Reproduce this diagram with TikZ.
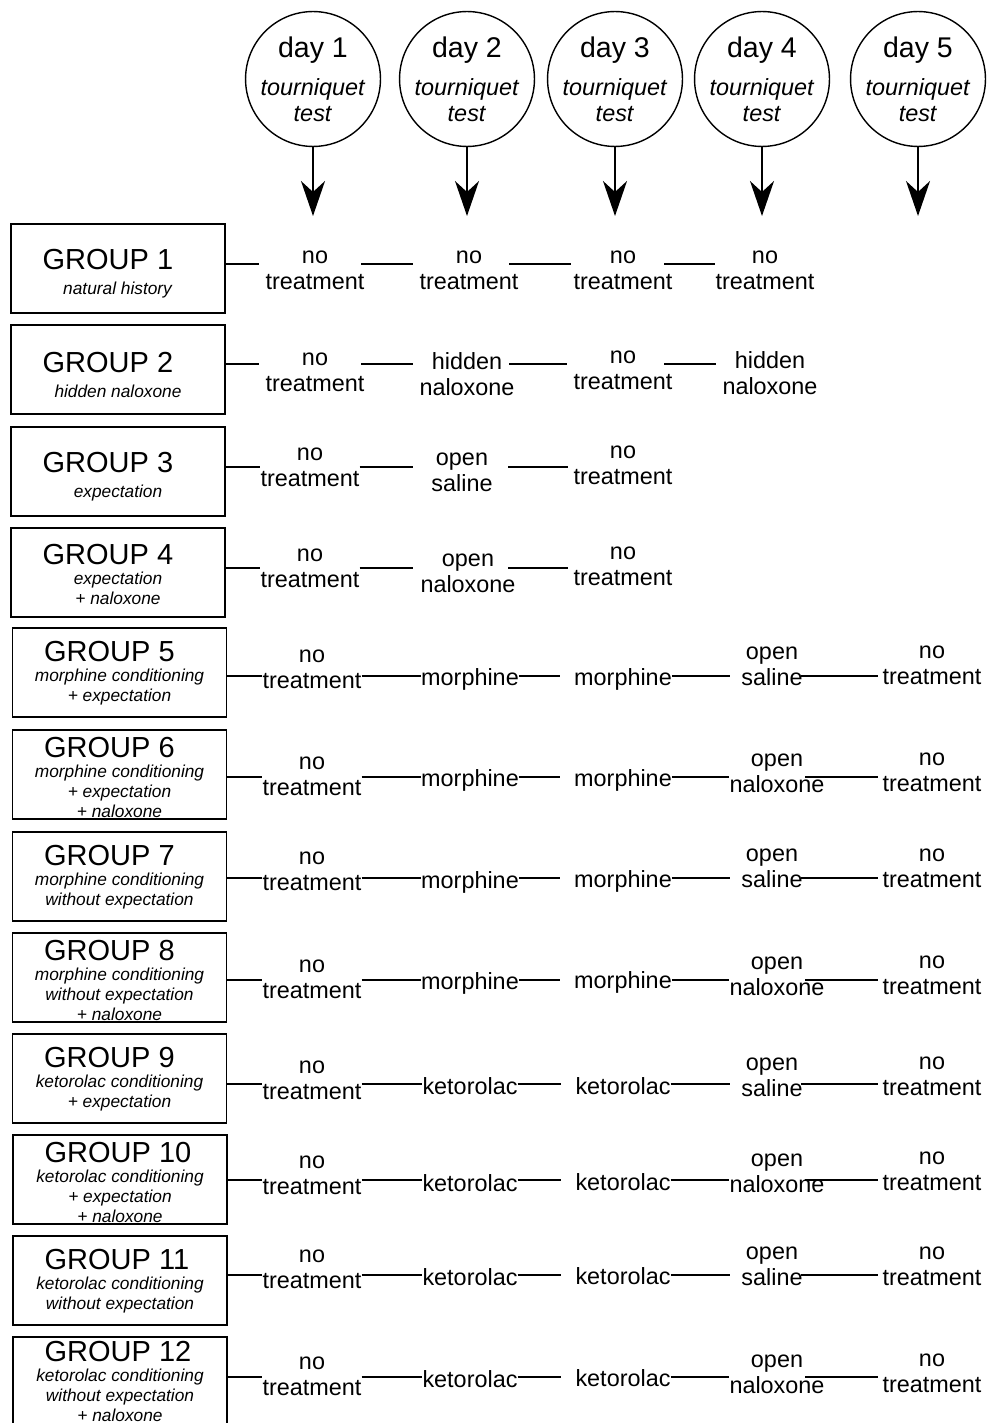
\documentclass[tikz,border=0pt]{standalone}
\usepackage{fontspec}
\setmainfont{Liberation Sans}
\usetikzlibrary{arrows.meta}
\newcommand\grouptitle[2][20.8pt]{{\fontsize{29}{20}\selectfont\rule{0pt}{#1}\rlap{GROUP #2}\phantom{GROUP 10}\hspace*{4pt}}}
\newcommand\dayline[1]{{\fontsize{28.5}{26}\selectfont #1}}
\begin{document}
\begin{tikzpicture}[x=1pt,y=-1pt,
  gbox/.style={draw, line width=1.8pt, minimum width=214pt, minimum height=89pt, inner sep=0pt, align=center, font=\fontsize{17.3}{20}\selectfont},
  daycirc/.style={draw, circle, line width=1.4pt, minimum size=130pt, inner sep=0pt, align=center, font=\fontsize{23.4}{26}\selectfont},
  cell/.style={inner sep=0pt, align=center, font=\fontsize{23.4}{26}\selectfont},
  conn/.style={line width=1.6pt},
  dayarrow/.style={line width=1.6pt, -{Stealth[length=35pt,width=24pt,inset=11pt]}}]
\useasboundingbox (0,0) rectangle (988,1423);

% day circles and arrows
\foreach \i/\x in {1/313,2/467,3/615,4/762,5/918}{
  \node[daycirc] (d\i) at (\x,79) {\dayline{day \i}\\[12pt]\textit{tourniquet}\\\textit{test}};
  \coordinate (t\i) at (\x,216);
  \draw[dayarrow] (d\i.south) -- (t\i);
}

% group boxes
\node[gbox] (g1) at (118,268.5) {\grouptitle[31pt]{1}\\[4.5pt]\textit{natural history}};
\node[gbox] (g2) at (118,369.5) {\grouptitle[31pt]{2}\\[4.5pt]\textit{hidden naloxone}};
\node[gbox] (g3) at (118,471.5) {\grouptitle[31pt]{3}\\[4.5pt]\textit{expectation}};
\node[gbox] (g4) at (118,572.5) {\grouptitle[24pt]{4}\\\textit{expectation}\\\textit{+ naloxone}};
\node[gbox] (g5) at (119.5,672.5) {\grouptitle{5}\\\textit{morphine conditioning}\\\textit{+ expectation}};
\node[gbox] (g6) at (119.5,774.5) {\grouptitle[26pt]{6}\\\textit{morphine conditioning}\\\textit{+ expectation}\\\textit{+ naloxone}};
\node[gbox] (g7) at (119.5,876.5) {\grouptitle{7}\\\textit{morphine conditioning}\\\textit{without expectation}};
\node[gbox] (g8) at (119.5,977.5) {\grouptitle[26pt]{8}\\\textit{morphine conditioning}\\\textit{without expectation}\\\textit{+ naloxone}};
\node[gbox] (g9) at (119.5,1078.5) {\grouptitle{9}\\\textit{ketorolac conditioning}\\\textit{+ expectation}};
\node[gbox] (g10) at (120,1179.5) {\grouptitle[26pt]{10}\\\textit{ketorolac conditioning}\\\textit{+ expectation}\\\textit{+ naloxone}};
\node[gbox] (g11) at (120,1280.5) {\grouptitle{11}\\\textit{ketorolac conditioning}\\\textit{without expectation}};
\node[gbox] (g12) at (120,1381.5) {\grouptitle{12}\\\textit{ketorolac conditioning}\\\textit{without expectation}\\\textit{+ naloxone}};

% row 1
\coordinate (L1) at (0,264);
\node[cell,anchor=south] (c1a) at (315,290) {no\\treatment};
\node[cell,anchor=south] (c1b) at (469,290) {no\\treatment};
\node[cell,anchor=south] (c1c) at (623,290) {no\\treatment};
\node[cell,anchor=south] (c1d) at (765,290) {no\\treatment};
\draw[conn,shorten >=6.6pt] (g1.east |- L1) -- (c1a.west |- L1);
\draw[conn,shorten <=-3.4pt,shorten >=6.6pt] (c1a.east |- L1) -- (c1b.west |- L1);
\draw[conn,shorten <=-9.4pt,shorten >=2.6pt] (c1b.east |- L1) -- (c1c.west |- L1);
\draw[conn,shorten <=-8.4pt] (c1c.east |- L1) -- (c1d.west |- L1);

% row 2
\coordinate (L2) at (0,364);
\node[cell,anchor=south] (c2a) at (315,392) {no\\treatment};
\node[cell,anchor=south] (c2b) at (467,396) {hidden\\naloxone};
\node[cell,anchor=south] (c2c) at (623,390) {no\\treatment};
\node[cell,anchor=south] (c2d) at (770,395) {hidden\\naloxone};
\draw[conn,shorten >=6.6pt] (g2.east |- L2) -- (c2a.west |- L2);
\draw[conn,shorten <=-3.4pt,shorten >=6.5pt] (c2a.east |- L2) -- (c2b.west |- L2);
\draw[conn,shorten <=-5.5pt,shorten >=6.6pt] (c2b.east |- L2) -- (c2c.west |- L2);
\draw[conn,shorten <=-8.4pt,shorten >=6.5pt] (c2c.east |- L2) -- (c2d.west |- L2);

% row 3
\coordinate (L3) at (0,467);
\node[cell,anchor=south] (c3a) at (310,487) {no\\treatment};
\node[cell,anchor=south] (c3b) at (462,492) {open\\saline};
\node[cell,anchor=south] (c3c) at (623,485) {no\\treatment};
\draw[conn] (g3.east |- L3) -- (c3a.west |- L3);
\draw[conn,shorten >=18.4pt] (c3a.east |- L3) -- (c3b.west |- L3);
\draw[conn,shorten <=15.4pt,shorten >=5.6pt] (c3b.east |- L3) -- (c3c.west |- L3);

% row 4
\coordinate (L4) at (0,568);
\node[cell,anchor=south] (c4a) at (310,588) {no\\treatment};
\node[cell,anchor=south] (c4b) at (468,593) {open\\naloxone};
\node[cell,anchor=south] (c4c) at (623,586) {no\\treatment};
\draw[conn] (g4.east |- L4) -- (c4a.west |- L4);
\draw[conn,shorten >=7.5pt] (c4a.east |- L4) -- (c4b.west |- L4);
\draw[conn,shorten <=-7.5pt,shorten >=5.6pt] (c4b.east |- L4) -- (c4c.west |- L4);

% rows 5-12
\foreach \r/\L/\ba/\bb/\bc/\bd/\be/\drug/\four/\xd/\sd/\se in {
  5/676/689/685/685/686/685/morphine/saline/772/11pt/-2pt,
  6/777/796/786/786/793/792/morphine/naloxone/777/0pt/-19.5pt,
  7/878/891/888/887/888/888/morphine/saline/772/11pt/-2pt,
  8/980/999/989/988/996/995/morphine/naloxone/777/0pt/-19.5pt,
  9/1084/1100/1094/1094/1097/1096/ketorolac/saline/772/11pt/-2pt,
  10/1180/1195/1191/1190/1193/1191/ketorolac/naloxone/777/0pt/-19.5pt,
  11/1275/1289/1285/1284/1286/1286/ketorolac/saline/772/11pt/-2pt,
  12/1377/1396/1387/1386/1394/1393/ketorolac/naloxone/777/0pt/-19.5pt}{
  \coordinate (L\r) at (0,\L);
  \node[cell,anchor=south] (c\r a) at (312,\ba) {no\\treatment};
  \node[cell,anchor=base] (c\r b) at (470,\bb) {\drug};
  \node[cell,anchor=base] (c\r c) at (623,\bc) {\drug};
  \node[cell,anchor=south] (c\r d) at (\xd,\bd) {open\\\four};
  \node[cell,anchor=south] (c\r e) at (932,\be) {no\\treatment};
  \draw[conn] (g\r.east |- L\r) -- (c\r a.west |- L\r);
  \draw[conn] (c\r a.east |- L\r) -- (c\r b.west |- L\r);
  \draw[conn,shorten >=14pt] (c\r b.east |- L\r) -- (c\r c.west |- L\r);
  \draw[conn,shorten >=\sd] (c\r c.east |- L\r) -- (c\r d.west |- L\r);
  \draw[conn,shorten <=\se,shorten >=4.6pt] (c\r d.east |- L\r) -- (c\r e.west |- L\r);
}
\end{tikzpicture}
\end{document}
